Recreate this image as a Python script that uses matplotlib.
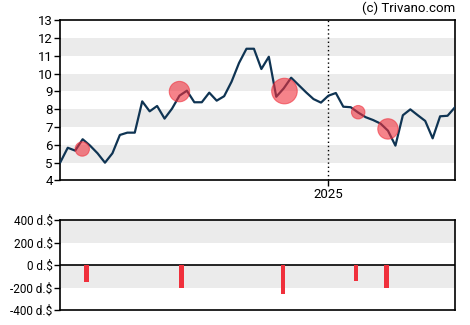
import matplotlib.pyplot as plt

plt.rcParams['font.family'] = ['Roboto', 'DejaVu Sans']

# weekly closing prices
price = [5.01, 5.83, 5.67, 6.31, 5.95, 5.52, 4.99, 5.52, 6.55, 6.68,
         6.68, 8.44, 7.88, 8.18, 7.47, 8.03, 8.76, 9.04, 8.39, 8.39,
         8.93, 8.48, 8.73, 9.55, 10.6, 11.40, 11.40, 10.26, 10.95, 8.70,
         9.17, 9.77, 9.36, 8.95, 8.57, 8.37, 8.76, 8.91, 8.14, 8.11,
         7.81, 7.55, 7.39, 7.19, 6.79, 5.95, 7.66, 7.99, 7.66, 7.34,
         6.36, 7.60, 7.63, 8.11]

# insider transactions
event_idx = [2.95, 16.0, 30.1, 40.0, 44.0]
event_price = [5.76, 8.99, 9.02, 7.83, 6.89]
bar_idx = [3.5, 16.3, 29.9, 39.7, 43.8]
amounts = [-146, -208, -261, -137, -208]

year_idx = 36
year_label = "2025"

W, H = 470, 325
fig = plt.figure(figsize=(W / 100, H / 100), dpi=100)
ax = fig.add_axes([60.3 / W, 1 - 180.3 / H, 394.7 / W, 160 / H])
ax2 = fig.add_axes([60.3 / W, 1 - 310 / H, 394.7 / W, 89.7 / H])

band = "#ebebeb"
red = "#f0303c"

# price chart
for lo in [5, 7, 9, 11]:
  ax.axhspan(lo, lo + 1, color=band, lw=0, zorder=0)
ax.axvline(year_idx, color="black", ls=(0, (1, 2)), lw=1, zorder=1)
ax.plot(range(len(price)), price, color="#0f3453", lw=1.6, zorder=3)
sizes = [(2 * 0.049 * abs(a) * 0.72) ** 2 for a in amounts]
ax.scatter(event_idx, event_price, s=sizes, color=red, alpha=0.6,
           edgecolors=red, linewidths=0.8, zorder=4)
ax.set_xlim(0, len(price) - 1)
ax.set_ylim(4, 13)
ax.set_yticks(range(4, 14))
ax.set_xticks([year_idx])
ax.set_xticklabels([year_label])

# transaction bars
for lo in [200, -200]:
  ax2.axhspan(lo, lo + 200, color=band, lw=0, zorder=0)
ax2.axhline(0, color="black", lw=1.2, zorder=2)
ax2.bar(bar_idx, amounts, width=0.63, color=red, zorder=3)
ax2.set_xlim(0, len(price) - 1)
ax2.set_ylim(-400, 400)
ax2.set_yticks([400, 200, 0, -200, -400])
ax2.set_yticklabels(["400 d.$", "200 d.$", "0 d.$", "-200 d.$", "-400 d.$"])
ax2.set_xticks([])

for a in (ax, ax2):
  for s in a.spines.values():
    s.set_linewidth(1.2)
  a.tick_params(labelsize=9.5, length=4, width=1, pad=1.5)
ax2.tick_params(labelsize=8.5)

fig.text(455 / W, 1 - 8 / H, "(c) Trivano.com", ha="right", va="center", fontsize=9.5)

fig.savefig("out.png", dpi=100)
